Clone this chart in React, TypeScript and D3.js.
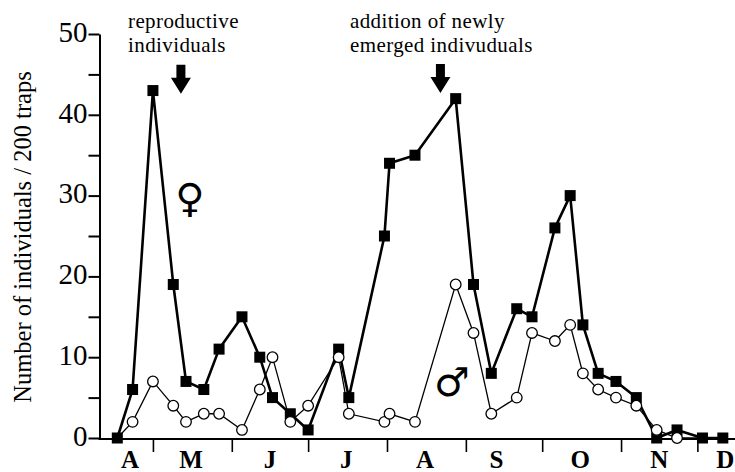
import React, { useEffect, useRef } from 'react';
import * as d3 from 'd3';

// Seasonal trap catches, females (filled squares) vs males (open circles).

const W = 735;
const H = 472;

const sampleDates = [
  '1995-04-17', '1995-04-23', '1995-05-01', '1995-05-09', '1995-05-14', '1995-05-21',
  '1995-05-27', '1995-06-05', '1995-06-12', '1995-06-17', '1995-06-24', '1995-07-01',
  '1995-07-13', '1995-07-17', '1995-07-31', '1995-08-02', '1995-08-12', '1995-08-28',
  '1995-09-04', '1995-09-11', '1995-09-21', '1995-09-27', '1995-10-06', '1995-10-12',
  '1995-10-17', '1995-10-23', '1995-10-30', '1995-11-07', '1995-11-15', '1995-11-23',
  '1995-12-03', '1995-12-11',
];

const females = [
  0, 6, 43, 19, 7, 6, 11, 15, 10, 5, 3, 1, 11, 5, 25, 34,
  35, 42, 19, 8, 16, 15, 26, 30, 14, 8, 7, 5, 0, 1, 0, 0,
];

const males = [
  0, 2, 7, 4, 2, 3, 3, 1, 6, 10, 2, 4, 10, 3, 2, 3,
  2, 19, 13, 3, 5, 13, 12, 14, 8, 6, 5, 4, 1, 0, 0, 0,
];

const monthTicks = [
  '1995-05-01', '1995-06-01', '1995-07-01', '1995-08-01',
  '1995-09-01', '1995-10-01', '1995-11-01', '1995-12-01',
];
const monthLabels = ['A', 'M', 'J', 'J', 'A', 'S', 'O', 'N', 'D'];
const monthLabelDates = [
  '1995-04-22', '1995-05-16', '1995-06-16', '1995-07-16', '1995-08-16',
  '1995-09-13', '1995-10-16', '1995-11-16', '1995-12-12',
];

const yTicks = [0, 5, 10, 15, 20, 25, 30, 35, 40, 45, 50];

// arrows mark the two events, tips just above the peaks
const arrowDates = ['1995-05-12', '1995-08-22'];
const arrowTipValue = [42.6, 42.7];
const noteLines = [
  ['reproductive', 'individuals'],
  ['addition of newly', 'emerged indivuduals'],
];
const noteLeft = [128, 350];

const parse = d3.timeParse('%Y-%m-%d');
const SERIF = '"Liberation Serif", "Times New Roman", serif';

const App = () => {
  const svgRef = useRef<SVGSVGElement>(null);

  useEffect(() => {
    const svg = d3.select(svgRef.current);
    svg.selectAll('*').remove();

    const dates = sampleDates.map(s => parse(s) as Date);
    const x = d3.scaleTime()
      .domain([parse('1995-04-10') as Date, parse('1995-12-15') as Date])
      .range([99.5, 733]);
    const y = d3.scaleLinear().domain([0, 50]).range([438, 34]);

    svg.append('rect').attr('width', W).attr('height', H).attr('fill', '#fff');

    // y axis
    const yAx = svg.append('g')
      .attr('transform', `translate(${x.range()[0]},0)`)
      .call(d3.axisLeft(y).tickValues(yTicks).tickSize(11).tickSizeOuter(0).tickPadding(1)
        .tickFormat(v => (+v % 10 === 0 ? String(v) : '')));
    yAx.select('.domain').attr('stroke-width', 2);
    yAx.selectAll('.tick line').attr('stroke-width', 2);
    yAx.selectAll('.tick text')
      .attr('font-family', SERIF)
      .attr('font-size', 29)
      .attr('fill', '#000')
      .attr('dy', '0.25em');

    // x axis
    const xAx = svg.append('g')
      .attr('transform', `translate(0,${y(0) + 1})`)
      .call(d3.axisBottom(x).tickValues(monthTicks.map(s => parse(s) as Date))
        .tickSize(13).tickSizeOuter(0).tickFormat(() => ''));
    xAx.select('.domain').remove();
    xAx.append('line')
      .attr('x1', x.range()[0] - 1).attr('x2', W)
      .attr('stroke', '#000').attr('stroke-width', 2);
    xAx.selectAll('.tick line').attr('stroke-width', 1.6);

    svg.append('g')
      .selectAll('text')
      .data(monthLabels)
      .join('text')
      .attr('x', (_, i) => x(parse(monthLabelDates[i]) as Date))
      .attr('y', 468)
      .attr('text-anchor', 'middle')
      .attr('font-family', SERIF)
      .attr('font-weight', 'bold')
      .attr('font-size', 25)
      .text(d => d);

    svg.append('text')
      .attr('transform', `translate(31,237) rotate(-90)`)
      .attr('text-anchor', 'middle')
      .attr('font-family', SERIF)
      .attr('font-size', 24.5)
      .text('Number of individuals / 200 traps');

    const line = d3.line<number>()
      .x((_, i) => x(dates[i]))
      .y(v => y(v));

    svg.append('path')
      .datum(females)
      .attr('fill', 'none')
      .attr('stroke', '#000')
      .attr('stroke-width', 2.6)
      .attr('stroke-linejoin', 'round')
      .attr('d', line);

    svg.append('path')
      .datum(males)
      .attr('fill', 'none')
      .attr('stroke', '#000')
      .attr('stroke-width', 1.3)
      .attr('d', line);

    svg.append('g')
      .selectAll('rect')
      .data(females)
      .join('rect')
      .attr('x', (_, i) => x(dates[i]) - 5.5)
      .attr('y', v => y(v) - 5.5)
      .attr('width', 11)
      .attr('height', 11)
      .attr('fill', '#000');

    // circles that sit exactly on a square are hidden under it
    svg.append('g')
      .selectAll('circle')
      .data(males.map((v, i) => ({ v, i })).filter(d => d.v !== females[d.i]))
      .join('circle')
      .attr('cx', d => x(dates[d.i]))
      .attr('cy', d => y(d.v))
      .attr('r', 5.3)
      .attr('fill', '#fff')
      .attr('stroke', '#000')
      .attr('stroke-width', 1.3);

    // annotations, two lines each
    noteLines.forEach((lines, k) => {
      lines.forEach((s, j) => {
        svg.append('text')
          .attr('x', noteLeft[k])
          .attr('y', 28 + j * 24)
          .attr('font-family', SERIF)
          .attr('font-size', 21)
          .attr('letter-spacing', 0.4)
          .text(s);
      });
    });

    arrowDates.forEach((s, k) => {
      const ax = x(parse(s) as Date);
      const ay = y(arrowTipValue[k]);
      const p = d3.path();
      p.moveTo(ax - 4.5, ay - 29);
      p.lineTo(ax + 4.5, ay - 29);
      p.lineTo(ax + 4.5, ay - 16);
      p.lineTo(ax + 10, ay - 16);
      p.lineTo(ax, ay);
      p.lineTo(ax - 10, ay - 16);
      p.lineTo(ax - 4.5, ay - 16);
      p.closePath();
      svg.append('path').attr('d', p.toString()).attr('fill', '#000');
    });

    svg.append('text')
      .attr('x', 190).attr('y', 212)
      .attr('text-anchor', 'middle')
      .attr('font-family', '"DejaVu Sans", sans-serif')
      .attr('font-size', 40)
      .text('\u2640');

    svg.append('text')
      .attr('x', 452).attr('y', 396)
      .attr('text-anchor', 'middle')
      .attr('font-family', '"DejaVu Sans", sans-serif')
      .attr('font-size', 40)
      .text('\u2642');
  }, []);

  return (
    <svg
      ref={svgRef}
      width={W}
      height={H}
      style={{ position: 'absolute', left: 0, top: 0, display: 'block' }}
    />
  );
};

export default App;
